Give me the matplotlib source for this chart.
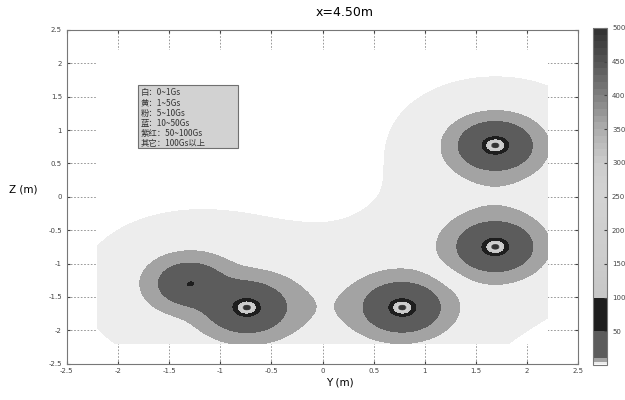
import numpy as np
import matplotlib
matplotlib.use("Agg")
import matplotlib.pyplot as plt
from matplotlib.patches import Rectangle

plt.rcParams['font.family'] = ['DejaVu Sans']

# cable positions (Y, Z in m)
src_y = [-0.74, 0.78, 1.69, 1.69, -1.30]
src_z = [-1.66, -1.66, -0.75, 0.77, -1.30]
# near-field strength, current sense, soft core radius, background strength
src_amp = [2.335, 2.335, 2.335, 2.335, 1.76]
src_sign = [1, -1, -1, 1, -1]
src_core = [0.0, 0.0, 0.0, 0.0, 0.108]
src_back = [1.75, 1.75, 1.75, 1.75, 1.75]

# Gs bands
band_edges = [0, 1, 5, 10, 50, 100]
band_colors = ['#ffffff', '#ededed', '#a3a3a3', '#5c5c5c', '#1e1e1e']
hi_vals = [100, 150, 200, 250, 300, 350, 400, 450, 500]
hi_grays = [0.78, 0.80, 0.81, 0.83, 0.80, 0.68, 0.50, 0.33, 0.19]

cbar_ticks = [50, 100, 150, 200, 250, 300, 350, 400, 450, 500]
tick_vals = [-2.5, -2, -1.5, -1, -0.5, 0, 0.5, 1, 1.5, 2, 2.5]
tick_text = ['-2.5', '-2', '-1.5', '-1', '-0.5', '0', '0.5', '1', '1.5', '2', '2.5']
legend_lines = ['白：0~1Gs', '黄：1~5Gs', '粉：5~10Gs', '蓝：10~50Gs',
                '紫红：50~100Gs', '其它：100Gs以上']

# field on the computed domain
g = np.linspace(-2.2, 2.2, 441)
Y, Z = np.meshgrid(g, g)
by = np.zeros_like(Y)
bz = np.zeros_like(Y)
back = np.zeros_like(Y)
for y0, z0, a, sg, c, b in zip(src_y, src_z, src_amp, src_sign, src_core, src_back):
    dy, dz = Y - y0, Z - z0
    r = np.maximum(np.hypot(dy, dz), 0.01)
    mag = a * (r**2 + c**2) ** -0.75 * np.exp(-(r / 0.7) ** 2)
    by += sg * mag * -dz / r
    bz += sg * mag * dy / r
    back += b * np.exp(-(r / 1.1) ** 2)
F = np.clip(np.hypot(by, bz) + back, 0, 499.9)

hi_edges = list(range(100, 501, 10))
levels = band_edges[:-1] + hi_edges
colors = list(band_colors)
for lo in hi_edges[:-1]:
    v = np.interp(lo + 5, hi_vals, hi_grays)
    colors.append((v, v, v))

fig = plt.figure(figsize=(6.25, 4), dpi=100)
ax = fig.add_axes([0.107, 0.091, 0.818, 0.834])
ax.set_axisbelow(True)
ax.grid(True, linestyle=(0, (2, 2)), color='#888888', linewidth=0.6)
cs = ax.contourf(Y, Z, F, levels=levels, colors=colors)

ax.set_xlim(-2.5, 2.5)
ax.set_ylim(-2.5, 2.5)
ax.set_xticks(tick_vals)
ax.set_xticklabels(tick_text)
ax.set_yticks(tick_vals)
ax.set_yticklabels(tick_text)
ax.tick_params(direction='in', length=2, labelsize=5, colors='#444444',
               top=True, right=True)
for s in ax.spines.values():
    s.set_color('#777777')
    s.set_linewidth(0.8)

# legend box
x0, y0 = -1.805, 0.73
ax.add_patch(Rectangle((x0, y0), 0.98, 0.946, facecolor='#d2d2d2',
                       edgecolor='#707070', linewidth=0.8, zorder=5))
for i, t in enumerate(legend_lines):
    ax.text(x0 + 0.03, y0 + 0.946 - 0.12 - i * 0.15, t, fontsize=6,
            family=['Noto Sans CJK SC', 'DejaVu Sans'], color='#333333',
            va='center', ha='left', zorder=6)

fig.text(0.552, 0.968, 'x=4.50m', ha='center', va='center', fontsize=9)
fig.text(0.544, 0.043, 'Y (m)', ha='center', va='center', fontsize=7.5)
fig.text(0.037, 0.525, 'Z (m)', ha='center', va='center', fontsize=7.5)

cax = fig.add_axes([0.949, 0.0875, 0.0224, 0.8425])
cb = fig.colorbar(cs, cax=cax, spacing='proportional', ticks=cbar_ticks)
cb.ax.set_yticklabels([str(t) for t in cbar_ticks])
cax.tick_params(direction='in', length=2, labelsize=5, colors='#444444')
cb.outline.set_edgecolor('#777777')

fig.savefig('out.png', dpi=100)
